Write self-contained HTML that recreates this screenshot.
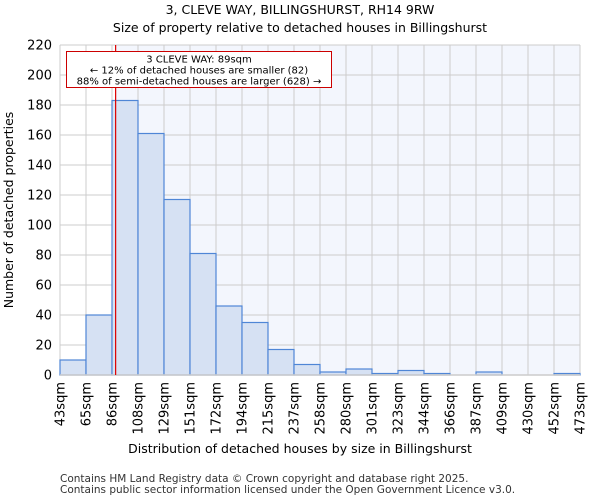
<!DOCTYPE html>
<html><head><meta charset="utf-8"><style>
body{margin:0;background:#fff;font-family:"DejaVu Sans","Liberation Sans",sans-serif}
</style></head><body>
<svg width="600" height="500" xmlns="http://www.w3.org/2000/svg" font-family="DejaVu Sans, Liberation Sans, sans-serif">
<text x="300" y="14" text-anchor="middle" font-size="12.5">3, CLEVE WAY, BILLINGSHURST, RH14 9RW</text>
<text x="300" y="32" text-anchor="middle" font-size="12.5">Size of property relative to detached houses in Billingshurst</text>
<g id="plot"></g>
<text x="300" y="453" text-anchor="middle" font-size="12.5">Distribution of detached houses by size in Billingshurst</text>
<text transform="translate(13,210) rotate(-90)" text-anchor="middle" font-size="12.5">Number of detached properties</text>
<text x="60" y="482" font-size="10.5" fill="#333">Contains HM Land Registry data © Crown copyright and database right 2025.</text>
<text x="60" y="493" font-size="10.5" fill="#333">Contains public sector information licensed under the Open Government Licence v3.0.</text>
</svg>
<script>
const categories=["43sqm","65sqm","86sqm","108sqm","129sqm","151sqm","172sqm","194sqm","215sqm","237sqm","258sqm","280sqm","301sqm","323sqm","344sqm","366sqm","387sqm","409sqm","430sqm","452sqm","473sqm"];
const counts=[10,40,183,161,117,81,46,35,17,7,2,4,1,3,1,0,2,0,0,1];
const yTicks=[0,20,40,60,80,100,120,140,160,180,200,220];
const binStart=43,binWidth=21.5,propertySize=89;
const X0=60,X1=580,Y0=375,Y1=45,ymax=220;
const ns="http://www.w3.org/2000/svg";
const g=document.getElementById('plot');
const bw=(X1-X0)/counts.length;
const xs=v=>X0+(v-binStart)/binWidth*bw;
const ys=v=>Y0-(v/ymax)*(Y0-Y1);
function mk(t,a,p){const e=document.createElementNS(ns,t);for(const k in a)e.setAttribute(k,a[k]);(p||g).appendChild(e);return e;}
const bg=mk('rect',{x:X0,y:Y1,width:X1-X0,height:Y0-Y1,fill:'#fff'});


const px=xs(propertySize);
const shade=mk('rect',{x:px,y:Y1,width:X1-px,height:Y0-Y1,fill:'#f3f6fd'});


yTicks.forEach(t=>{
 const l=mk('line',{x1:X0,x2:X1,y1:ys(t),y2:ys(t),stroke:'#ccc','stroke-width':1});
 
 
 const tx=mk('text',{x:X0-8,y:ys(t)+4.5,'text-anchor':'end','font-size':13});
 tx.textContent=t;
 
 
});
categories.forEach((c,i)=>{
 const x=X0+i*bw;
 const l=mk('line',{x1:x,x2:x,y1:Y1,y2:Y0,stroke:'#ccc','stroke-width':1});
 
 
 const tx=mk('text',{transform:`translate(${x+4.5},${Y0+7}) rotate(-90)`,'text-anchor':'end','font-size':13});
 tx.textContent=c;
 
 
});
counts.forEach((v,i)=>{
 if(v<=0)return;
 const b=mk('rect',{x:X0+i*bw,y:ys(v),width:bw,height:Y0-ys(v),fill:'#d6e1f3',stroke:'#4f86d6','stroke-width':1.2});
 
 
});
const ax=mk('line',{x1:X0,x2:X1,y1:Y0,y2:Y0,stroke:'#ccc','stroke-width':1.5});


const rl=mk('line',{x1:px,x2:px,y1:Y1,y2:Y0,stroke:'#dd0000','stroke-width':1.2});


const box=mk('rect',{x:66.5,y:51.5,width:265,height:36,fill:'#fff',stroke:'#c00','stroke-width':1});


["3 CLEVE WAY: 89sqm","← 12% of detached houses are smaller (82)","88% of semi-detached houses are larger (628) →"].forEach((s,i)=>{
 const t=mk('text',{x:199,y:62.5+i*11,'text-anchor':'middle','font-size':10});
 t.textContent=s;
 
 
});
</script>
</body></html>
